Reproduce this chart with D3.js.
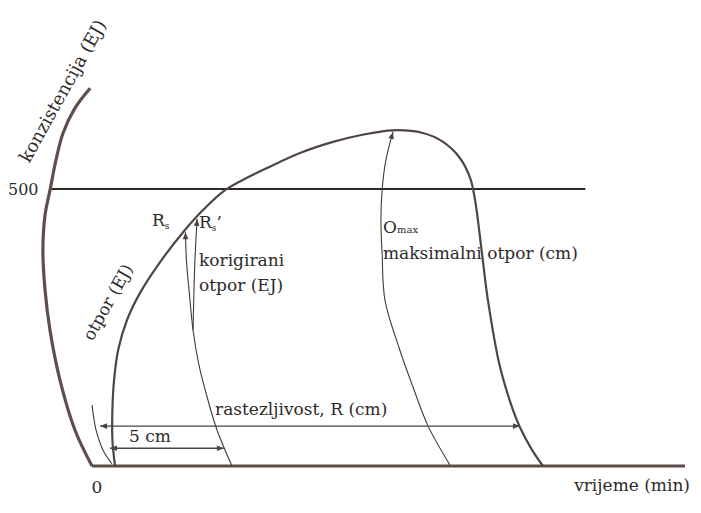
<!DOCTYPE html>
<html>
<head>
<meta charset="utf-8">
<script src="https://cdn.jsdelivr.net/npm/d3@7"></script>
<style>
  body { margin: 0; background: #fff; }
  svg text { font-family: "DejaVu Serif", "Liberation Serif", serif; fill: #2e2a28; }
</style>
</head>
<body>
<svg width="701" height="513"></svg>
<script>
// extenzogram, x u cm (vrijeme), y u EJ
var otpor = [[0.97,0],[0.86,47],[0.86,101],[0.93,155],[1.10,209],[1.48,264],[2.02,312],[2.87,368],
  [3.84,422],[4.68,462],[5.61,498],[6.66,523],[7.38,538],[8.77,565],[10.16,585],[11.30,597],
  [12.69,606],[13.95,601],[14.80,585],[15.51,556],[15.94,520],[16.15,480],[16.44,384],
  [16.69,300],[17.20,179],[17.75,101],[18.04,70],[18.55,29],[19.01,0]];
var konzistencija = [[0,0],[-0.72,65],[-1.35,155],[-1.77,245],[-1.98,318],[-2.07,390],[-1.98,453],
  [-1.77,498],[-1.52,552],[-1.22,601],[-0.72,646],[-0.08,682]];
var lukPocetak = [[0,110],[0.17,65],[0.46,29],[0.84,4]];
var lukRs = [[5.90,0],[5.27,65],[4.85,125],[4.51,182],[4.26,245],[4.09,318],[3.98,372],[3.94,422]];
var lukRs2 = [[4.26,245],[4.30,318],[4.34,372],[4.43,446]];
var lukOmax = [[15.09,2],[14.17,72],[13.53,143],[12.98,209],[12.35,300],[12.23,384],[12.18,444],
  [12.23,498],[12.39,552],[12.69,603]];
var rastezljivost = [0.34, 18.04, 72];   // od, do, visina
var petCm = [0.76, 5.56, 32];
var granica = 500;
var tickLabels = ["0", "500"];

var svg = d3.select("svg");
var x = d3.scaleLinear().domain([0, 25]).range([92, 685]);
var y = d3.scaleLinear().domain([0, 500]).range([466, 189]);

var line = d3.line()
    .x(function(d) { return x(d[0]); })
    .y(function(d) { return y(d[1]); })
    .curve(d3.curveCatmullRom.alpha(0.5));

var defs = svg.append("defs");
defs.append("marker")
    .attr("id", "arr")
    .attr("viewBox", "0 0 10 10")
    .attr("refX", 10).attr("refY", 5)
    .attr("markerWidth", 9).attr("markerHeight", 7)
    .attr("markerUnits", "userSpaceOnUse")
    .attr("orient", "auto-start-reverse")
  .append("path")
    .attr("d", "M0,1L10,5L0,9Z")
    .attr("fill", "#4a4442");

// horizontalna linija 500 EJ
svg.append("line")
    .attr("x1", x(-1.8)).attr("x2", x(20.8))
    .attr("y1", y(granica)).attr("y2", y(granica))
    .attr("stroke", "#2b2827").attr("stroke-width", 2);

// bazna linija
svg.append("line")
    .attr("x1", x(0)).attr("x2", x(25))
    .attr("y1", y(0)).attr("y2", y(0))
    .attr("stroke", "#5a4e4a").attr("stroke-width", 3);

svg.append("path")
    .datum(konzistencija)
    .attr("d", line)
    .attr("fill", "none")
    .attr("stroke", "#5e4f4a")
    .attr("stroke-width", 3.2);

svg.append("path")
    .datum(otpor)
    .attr("d", line)
    .attr("fill", "none")
    .attr("stroke", "#4f4643")
    .attr("stroke-width", 2.2);

// tanki lukovi
[lukPocetak, lukRs, lukRs2, lukOmax].forEach(function(d, i) {
  svg.append("path")
      .datum(d)
      .attr("d", line)
      .attr("fill", "none")
      .attr("stroke", "#3f3b3a")
      .attr("stroke-width", 1.1)
      .attr("marker-end", i > 0 ? "url(#arr)" : null);
});

// strelice
[rastezljivost, petCm].forEach(function(d, i) {
  svg.append("line")
      .attr("x1", x(d[0])).attr("x2", x(d[1]))
      .attr("y1", y(d[2])).attr("y2", y(d[2]))
      .attr("stroke", "#4a4442")
      .attr("stroke-width", i == 0 ? 1.1 : 1.5)
      .attr("marker-start", "url(#arr)")
      .attr("marker-end", "url(#arr)");
});

// oznake
svg.append("text").attr("x", 8).attr("y", y(granica) + 6)
    .attr("font-size", 16).text(tickLabels[1]);
svg.append("text").attr("x", 97).attr("y", 493).attr("text-anchor", "middle")
    .attr("font-size", 17).text(tickLabels[0]);
svg.append("text").attr("x", 690).attr("y", 491).attr("text-anchor", "end")
    .attr("font-size", 17).text("vrijeme (min)");

svg.append("text").attr("x", 215).attr("y", 415)
    .attr("font-size", 17).text("rastezljivost, R (cm)");
svg.append("text").attr("x", 129).attr("y", 442)
    .attr("font-size", 17).text("5 cm");

svg.append("text").attr("x", 199).attr("y", 266)
    .attr("font-size", 17).text("korigirani");
svg.append("text").attr("x", 199).attr("y", 291)
    .attr("font-size", 17).text("otpor (EJ)");

var rs = svg.append("text").attr("x", 152).attr("y", 226).attr("font-size", 17);
rs.append("tspan").text("R");
rs.append("tspan").attr("font-size", 9).attr("dy", 3).text("s");

var rs2 = svg.append("text").attr("x", 199).attr("y", 228).attr("font-size", 17);
rs2.append("tspan").text("R");
rs2.append("tspan").attr("font-size", 9).attr("dy", 3).text("s");
rs2.append("tspan").attr("dy", -3).text("’");

var om = svg.append("text").attr("x", 383).attr("y", 233).attr("font-size", 17);
om.append("tspan").text("O");
om.append("tspan").attr("font-size", 10).text("max");

svg.append("text").attr("x", 383).attr("y", 259)
    .attr("font-size", 17).text("maksimalni otpor (cm)");

svg.append("text")
    .attr("transform", "translate(113,305) rotate(-61)")
    .attr("text-anchor", "middle")
    .attr("font-size", 17).text("otpor (EJ)");

svg.append("text")
    .attr("transform", "translate(68,94) rotate(-61)")
    .attr("text-anchor", "middle")
    .attr("font-size", 18).text("konzistencija (EJ)");
</script>
</body>
</html>
